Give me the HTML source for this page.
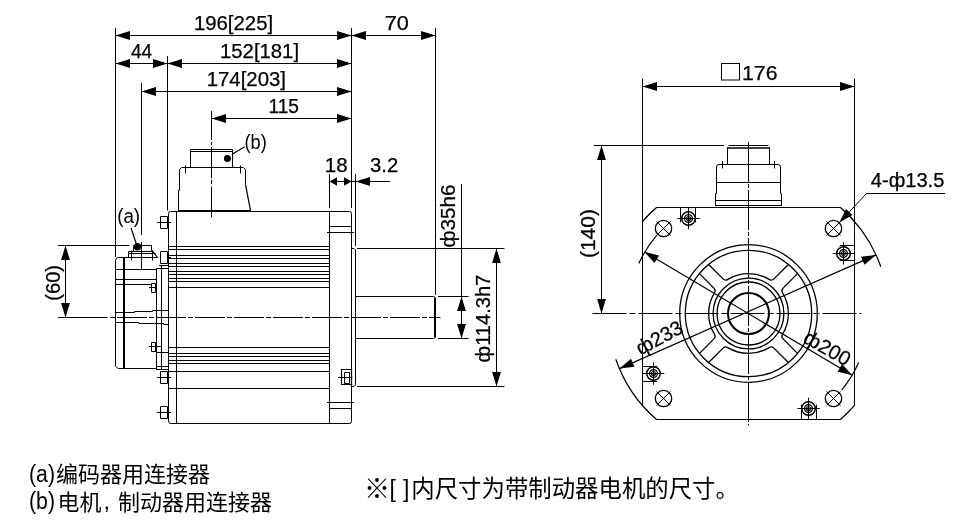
<!DOCTYPE html>
<html><head><meta charset="utf-8"><title>Motor dimensions</title>
<style>
html,body{margin:0;padding:0;background:#fff}
body{width:964px;height:521px;overflow:hidden;font-family:"Liberation Sans",sans-serif}
svg{display:block;will-change:transform}
</style></head><body>
<svg width="964" height="521" viewBox="0 0 964 521">
<title>Servo motor outline dimensions</title>
<desc>(a)编码器用连接器 (b)电机, 制动器用连接器 ※[ ]内尺寸为带制动器电机的尺寸。</desc>
<rect width="964" height="521" fill="#fff"/>
<g fill="none" stroke="#000" stroke-width="1">
<path d="M115.5,28V257" stroke-width="1" />
<path d="M351.5,28V208" stroke-width="1" />
<path d="M435.5,28V295" stroke-width="1" />
<path d="M167.5,56V210.5" stroke-width="1" />
<path d="M141.5,83V235" stroke-width="1" />
<path d="M141.5,242V269" stroke-width="1" />
<path d="M211.5,111V140" stroke-width="1" />
<path d="M211.5,142V145" stroke-width="1" />
<path d="M211.5,147V178.5" stroke-width="1" />
<path d="M211.5,180V184" stroke-width="1" />
<path d="M211.5,186.5V217.5" stroke-width="1" />
<path d="M115.5,35.5H435.5" stroke-width="1" />
<path d="M115.5,63.5H351.5" stroke-width="1" />
<path d="M141.5,91.5H351.5" stroke-width="1" />
<path d="M211.5,118.5H351.5" stroke-width="1" />
<path d="M329.5,181.5H390" stroke-width="1" />
<path d="M329.5,174V208" stroke-width="1" />
<path d="M355.5,174V246" stroke-width="1" />
<path d="M58,245.5H129.5" stroke-width="1" />
<path d="M65.5,245.5V317.5" stroke-width="1" />
<path d="M168.5,213.5Q168.5,211.5 170.5,211.5H349.5Q351.5,211.5 351.5,213.5V421.5Q351.5,423.5 349.5,423.5H171Q168.5,423.5 168.5,421Z" stroke-width="1" />
<path d="M176.5,211.5V423.5" stroke-width="1" />
<path d="M329.5,211.5V423.5" stroke-width="1" />
<path d="M168.5,246.5H329.5" stroke-width="1" />
<path d="M168.5,249.5H329.5" stroke-width="1" />
<path d="M168.5,255.5H329.5" stroke-width="1" />
<path d="M168.5,258.5H329.5" stroke-width="1" />
<path d="M168.5,263.5H329.5" stroke-width="1" />
<path d="M168.5,266.5H329.5" stroke-width="1" />
<path d="M168.5,271.5H329.5" stroke-width="1" />
<path d="M168.5,274.5H329.5" stroke-width="1" />
<path d="M168.5,278.5H329.5" stroke-width="1" />
<path d="M168.5,281.5H329.5" stroke-width="1" />
<path d="M168.5,287.5H329.5" stroke-width="1" />
<path d="M168.5,347.5H329.5" stroke-width="1" />
<path d="M168.5,353.5H329.5" stroke-width="1" />
<path d="M168.5,356.5H329.5" stroke-width="1" />
<path d="M168.5,360.5H329.5" stroke-width="1" />
<path d="M168.5,363.5H329.5" stroke-width="1" />
<path d="M168.5,371.5H329.5" stroke-width="1" />
<path d="M168.5,388.5H329.5" stroke-width="1" />
<path d="M329.5,226.5H351.5" stroke-width="1" />
<path d="M327,232.5H354" stroke-width="1" />
<path d="M327,402.5H354" stroke-width="1" />
<path d="M341.5,369.5H351.5V384.5H341.5Z" stroke-width="1.2" />
<path d="M344.5,372.5H349.5V383.5H344.5Z" stroke-width="1" />
<path d="M338,377.5H352.5" stroke-width="1" />
<path d="M329.5,408.5H351.5" stroke-width="1" />
<path d="M351.5,248.5H354L355.5,250V385L354,386.5H351.5" stroke-width="1" />
<path d="M357,248.5H504.5" stroke-width="1" />
<path d="M357,386.5H504.5" stroke-width="1" />
<path d="M355.5,296.5H433.5Q435.5,296.5 435.5,298.5V336.5Q435.5,338.5 433.5,338.5H355.5" stroke-width="1" />
<path d="M435,298V337" stroke-width="2" />
<path d="M438,296.5H468.5" stroke-width="1" />
<path d="M438,338.5H468.5" stroke-width="1" />
<path d="M461.5,184V338.5" stroke-width="1" />
<path d="M496.5,248.5V386.5" stroke-width="1" />
<path d="M58,317.5H107.5" stroke-width="1" />
<path d="M110,317.5H440.5" stroke-width="1" stroke-dasharray="5 2 30 2"/>
<path d="M157.5,257.5H118.5Q115.5,257.5 115.5,260.5V366L118,368.5H156.5" stroke-width="1" />
<path d="M124,257.5V368.5" stroke-width="2" />
<path d="M115.5,269.5H156.5" stroke-width="1" />
<path d="M115.5,279.5H156.5" stroke-width="1" />
<path d="M115.5,284.5H151.5" stroke-width="1" />
<path d="M156.5,268.5V369.5" stroke-width="1" />
<path d="M161.5,266V369.5" stroke-width="1" />
<path d="M159,265.5H168.5" stroke-width="1" />
<path d="M156.5,268.5H168.5" stroke-width="1" />
<path d="M156.5,352.5H168.5" stroke-width="1" />
<path d="M156.5,366.5H168.5" stroke-width="1" />
<path d="M156.5,369.5H168.5" stroke-width="1" />
<path d="M133.5,251.5V245.5H151.5V251" stroke-width="1" />
<path d="M128.5,251.5H152" stroke-width="1" />
<path d="M128.5,253.5H155.5" stroke-width="1" />
<path d="M128.5,251.5V257.5" stroke-width="1" />
<path d="M152,250.5L157.5,257.5" stroke-width="1.2" />
<path d="M131.5,250.5V260.5" stroke-width="1" />
<path d="M152.5,250.5V260.5" stroke-width="1" />
<path d="M131,228L137,246" stroke-width="1.2" />
<path d="M151.5,283.5H155.5V292.5H151.5Z" stroke-width="1" />
<path d="M149,287.5H157" stroke-width="1" />
<path d="M151.5,342.5H155.5V351.5H151.5Z" stroke-width="1" />
<path d="M149,346.5H161.5" stroke-width="1" />
<path d="M116,312.5H134.5V311.5H152.5V310.5H168.5" stroke-width="1" />
<path d="M116,322.5H139V323.5H163.5V324.5H168.5" stroke-width="1" />
<path d="M167.5,216.5H160.5V228.5H167.5" stroke-width="1" />
<path d="M167.5,216.5V228.5" stroke-width="1" />
<path d="M157,222.5H171" stroke-width="1" />
<path d="M167.5,251.5H160.5V263.5H167.5" stroke-width="1" />
<path d="M167.5,251.5V263.5" stroke-width="1" />
<path d="M167.5,257.5H171" stroke-width="1" />
<path d="M167.5,371.5H160.5V383.5H167.5" stroke-width="1" />
<path d="M167.5,371.5V383.5" stroke-width="1" />
<path d="M157,377.5H171" stroke-width="1" />
<path d="M167.5,406.5H160.5V418.5H167.5" stroke-width="1" />
<path d="M167.5,406.5V418.5" stroke-width="1" />
<path d="M157,412.5H171" stroke-width="1" />
<path d="M190.5,149.5H232.5" stroke-width="1" />
<path d="M190.5,151.5H232.5" stroke-width="1" />
<path d="M190.5,149.5V167.5" stroke-width="1" />
<path d="M232.5,149.5V167.5" stroke-width="1" />
<path d="M178.5,210.5V190.5H179.5V169.5L181.5,167.5H243.5L245.5,169.5V184.5" stroke-width="1" />
<path d="M245.5,184.5L250.5,210.5" stroke-width="1.3" />
<path d="M185.5,165.5V173.5" stroke-width="1" />
<path d="M240.5,165.5V173.5" stroke-width="1" />
<path d="M178,211H251" stroke-width="2" />
<path d="M232.5,154L244.7,146.8" stroke-width="1.2" />
</g>
<circle cx="137.4" cy="246.8" r="3.7" stroke-width="0" fill="#000"/>
<circle cx="227.4" cy="158.4" r="3.5" stroke-width="0" fill="#000"/>
<polygon points="115.50,35.50 130.00,31.10 130.00,39.90" fill="#000" stroke="none"/>
<polygon points="351.50,35.50 337.00,39.90 337.00,31.10" fill="#000" stroke="none"/>
<polygon points="351.50,35.50 366.00,31.10 366.00,39.90" fill="#000" stroke="none"/>
<polygon points="435.50,35.50 421.00,39.90 421.00,31.10" fill="#000" stroke="none"/>
<polygon points="115.50,63.50 130.00,59.10 130.00,67.90" fill="#000" stroke="none"/>
<polygon points="167.50,63.50 153.00,67.90 153.00,59.10" fill="#000" stroke="none"/>
<polygon points="167.50,63.50 182.00,59.10 182.00,67.90" fill="#000" stroke="none"/>
<polygon points="351.50,63.50 337.00,67.90 337.00,59.10" fill="#000" stroke="none"/>
<polygon points="141.50,91.50 156.00,87.10 156.00,95.90" fill="#000" stroke="none"/>
<polygon points="351.50,91.50 337.00,95.90 337.00,87.10" fill="#000" stroke="none"/>
<polygon points="211.50,118.50 226.00,114.10 226.00,122.90" fill="#000" stroke="none"/>
<polygon points="351.50,118.50 337.00,122.90 337.00,114.10" fill="#000" stroke="none"/>
<polygon points="355.50,181.50 370.00,177.10 370.00,185.90" fill="#000" stroke="none"/>
<polygon points="65.50,245.50 69.90,260.00 61.10,260.00" fill="#000" stroke="none"/>
<polygon points="65.50,317.50 61.10,303.00 69.90,303.00" fill="#000" stroke="none"/>
<polygon points="461.50,296.50 465.90,311.00 457.10,311.00" fill="#000" stroke="none"/>
<polygon points="461.50,338.50 457.10,324.00 465.90,324.00" fill="#000" stroke="none"/>
<polygon points="496.50,248.50 500.90,263.00 492.10,263.00" fill="#000" stroke="none"/>
<polygon points="496.50,386.50 492.10,372.00 500.90,372.00" fill="#000" stroke="none"/>
<polygon points="329.50,181.50 337.00,177.30 337.00,185.70" fill="#000" stroke="none"/>
<polygon points="351.50,181.50 344.00,185.70 344.00,177.30" fill="#000" stroke="none"/>
<g fill="none" stroke="#000" stroke-width="1">
<path d="M642.5,78.5V222" stroke-width="1" />
<path d="M854.5,78.5V222" stroke-width="1" />
<path d="M642.5,86.5H854.5" stroke-width="1" />
<path d="M656.6,207.5H840.4A140.3,140.3 0 0 1 854.5,221.6V405.4A140.3,140.3 0 0 1 840.4,419.5H656.6A140.3,140.3 0 0 1 642.5,405.4V221.6A140.3,140.3 0 0 1 656.6,207.5Z" stroke-width="1" />
<path d="M840.2,207.3A140.3,140.3 0 0 1 880.8,266.7" stroke-width="1.2" />
<path d="M854.7,405.2A140.3,140.3 0 0 1 840.2,419.7" stroke-width="1.2" />
<path d="M642.3,221.8A140.3,140.3 0 0 1 656.8,207.3" stroke-width="1.2" />
<path d="M656.8,419.7A140.3,140.3 0 0 1 615.8,359.2" stroke-width="1.2" />
<path d="M656.7,235.3A120.6,120.6 0 0 0 638.8,263.5" stroke-width="1.2" />
<path d="M841.6,390.2A120.6,120.6 0 0 0 858.7,362.6" stroke-width="1.2" />
<path d="M619.5,368.6L876,254.9" stroke-width="1.2" />
<path d="M644.3,251.8L852.3,375.3" stroke-width="1.2" />
<circle cx="748.5" cy="313.5" r="68.8" stroke-width="1.3" fill="none"/>
<circle cx="748.5" cy="313.5" r="63.2" stroke-width="1.3" fill="none"/>
<circle cx="748.5" cy="313.5" r="35.4" stroke-width="1.3" fill="none"/>
<circle cx="748.5" cy="313.5" r="31.5" stroke-width="1.3" fill="none"/>
<circle cx="748.5" cy="313.5" r="20.5" stroke-width="2" fill="none"/>
<path d="M708.6,264.5L723.1,278.9Q725.3,281.1 727.8,279.4A39.9,39.9 0 0 1 769.2,279.4Q771.7,281.1 773.9,278.9L788.4,264.5" stroke-width="1.3" />
<path d="M797.5,273.6L783.1,288.1Q780.9,290.3 782.6,292.8A39.9,39.9 0 0 1 782.6,334.2Q780.9,336.7 783.1,338.9L797.5,353.4" stroke-width="1.3" />
<path d="M788.4,362.5L773.9,348.1Q771.7,345.9 769.2,347.6A39.9,39.9 0 0 1 727.8,347.6Q725.3,345.9 723.1,348.1L708.6,362.5" stroke-width="1.3" />
<path d="M699.5,353.4L713.9,338.9Q716.1,336.7 714.4,334.2A39.9,39.9 0 0 1 714.4,292.8Q716.1,290.3 713.9,288.1L699.5,273.6" stroke-width="1.3" />
<circle cx="663.5" cy="228.5" r="8.2" stroke-width="1.3" fill="none"/>
<path d="M656.5,221.5L670.5,235.5" stroke-width="1" />
<path d="M656.5,235.5L670.5,221.5" stroke-width="1" />
<circle cx="663.5" cy="398.5" r="8.2" stroke-width="1.3" fill="none"/>
<path d="M656.5,391.5L670.5,405.5" stroke-width="1" />
<path d="M656.5,405.5L670.5,391.5" stroke-width="1" />
<circle cx="833.5" cy="228.5" r="8.2" stroke-width="1.3" fill="none"/>
<path d="M826.5,221.5L840.5,235.5" stroke-width="1" />
<path d="M826.5,235.5L840.5,221.5" stroke-width="1" />
<circle cx="833.5" cy="398.5" r="8.2" stroke-width="1.3" fill="none"/>
<path d="M826.5,391.5L840.5,405.5" stroke-width="1" />
<path d="M826.5,405.5L840.5,391.5" stroke-width="1" />
<circle cx="688.5" cy="218.5" r="2.0" stroke-width="1.2" fill="none"/>
<circle cx="688.5" cy="218.5" r="3.9" stroke-width="1.3" fill="none"/>
<circle cx="688.5" cy="218.5" r="6.8" stroke-width="1.5" fill="none"/>
<path d="M680.5,207.5L680.5,222.3" stroke-width="1" />
<path d="M695.5,207.5L695.5,222.3" stroke-width="1" />
<path d="M677.2,218.5L699.6,218.5" stroke-width="1" />
<path d="M688.5,207.5L688.5,229.3" stroke-width="1" />
<circle cx="843.5" cy="253.5" r="2.0" stroke-width="1.2" fill="none"/>
<circle cx="843.5" cy="253.5" r="3.9" stroke-width="1.3" fill="none"/>
<circle cx="843.5" cy="253.5" r="6.8" stroke-width="1.5" fill="none"/>
<path d="M854.5,245.5L839.7,245.5" stroke-width="1" />
<path d="M854.5,260.5L839.7,260.5" stroke-width="1" />
<path d="M843.5,242.2L843.5,264.6" stroke-width="1" />
<path d="M854.5,253.5L832.7,253.5" stroke-width="1" />
<circle cx="808.5" cy="408.5" r="2.0" stroke-width="1.2" fill="none"/>
<circle cx="808.5" cy="408.5" r="3.9" stroke-width="1.3" fill="none"/>
<circle cx="808.5" cy="408.5" r="6.8" stroke-width="1.5" fill="none"/>
<path d="M816.5,419.5L816.5,404.7" stroke-width="1" />
<path d="M801.5,419.5L801.5,404.7" stroke-width="1" />
<path d="M819.8,408.5L797.4,408.5" stroke-width="1" />
<path d="M808.5,419.5L808.5,397.7" stroke-width="1" />
<circle cx="653.5" cy="373.5" r="2.0" stroke-width="1.2" fill="none"/>
<circle cx="653.5" cy="373.5" r="3.9" stroke-width="1.3" fill="none"/>
<circle cx="653.5" cy="373.5" r="6.8" stroke-width="1.5" fill="none"/>
<path d="M642.5,381.5L657.3,381.5" stroke-width="1" />
<path d="M642.5,366.5L657.3,366.5" stroke-width="1" />
<path d="M653.5,384.8L653.5,362.4" stroke-width="1" />
<path d="M642.5,373.5L664.3,373.5" stroke-width="1" />
<path d="M945,193.5H866.5L839.3,222.6" stroke-width="1" />
<path d="M728.5,145.5H768.5" stroke-width="1" />
<path d="M727.5,148H769.5" stroke-width="1.5" />
<path d="M727.5,147V164.5" stroke-width="1" />
<path d="M769.5,147V164.5" stroke-width="1" />
<path d="M715.5,205.5V193.5H716.5V167Q716.5,164.5 719,164.5H778Q780.5,164.5 780.5,167V193.5H781.5V205.5" stroke-width="1" />
<path d="M716.5,182.5H780.5" stroke-width="1" />
<path d="M715.5,200.5H781.5" stroke-width="1" />
<path d="M715,205.5H782" stroke-width="1" />
<path d="M722.5,161V168.5" stroke-width="1" />
<path d="M774.5,161V168.5" stroke-width="1" />
<path d="M720.5,164.5H724.5" stroke-width="1" />
<path d="M772.5,164.5H776.5" stroke-width="1" />
<path d="M594,145.5H724" stroke-width="1" />
<path d="M601.5,145.5V313.5" stroke-width="1" />
<path d="M592.5,313.5H861.5" stroke-width="1" stroke-dasharray="34 3 6 3"/>
<path d="M748.5,142V425.5" stroke-width="1" stroke-dasharray="40 2 4 2"/>
</g>
<polygon points="642.50,86.50 657.00,82.10 657.00,90.90" fill="#000" stroke="none"/>
<polygon points="854.50,86.50 840.00,90.90 840.00,82.10" fill="#000" stroke="none"/>
<polygon points="601.50,145.50 605.90,160.00 597.10,160.00" fill="#000" stroke="none"/>
<polygon points="601.50,313.50 597.10,299.00 605.90,299.00" fill="#000" stroke="none"/>
<polygon points="619.50,368.60 630.97,358.70 634.54,366.75" fill="#000" stroke="none"/>
<polygon points="876.00,254.90 864.53,264.80 860.96,256.75" fill="#000" stroke="none"/>
<polygon points="644.30,251.80 659.01,255.42 654.52,262.99" fill="#000" stroke="none"/>
<polygon points="852.30,375.30 837.59,371.68 842.08,364.11" fill="#000" stroke="none"/>
<polygon points="839.30,222.60 845.99,209.00 852.42,215.01" fill="#000" stroke="none"/>
<g fill="#000" stroke="none">
<text x="193.9" y="29.7" font-size="20.3" font-family="Liberation Sans, sans-serif" text-anchor="start" textLength="79.26" lengthAdjust="spacingAndGlyphs" stroke="#000" stroke-width="0.25">196[225]</text>
<text x="384.73" y="29.8" font-size="20.3" font-family="Liberation Sans, sans-serif" text-anchor="start" textLength="24.17" lengthAdjust="spacingAndGlyphs" stroke="#000" stroke-width="0.25">70</text>
<text x="130.9" y="57.7" font-size="20.3" font-family="Liberation Sans, sans-serif" text-anchor="start" textLength="21.23" lengthAdjust="spacingAndGlyphs" stroke="#000" stroke-width="0.25">44</text>
<text x="220.0" y="57.8" font-size="20.3" font-family="Liberation Sans, sans-serif" text-anchor="start" textLength="79.06" lengthAdjust="spacingAndGlyphs" stroke="#000" stroke-width="0.25">152[181]</text>
<text x="206.7" y="85.5" font-size="20.3" font-family="Liberation Sans, sans-serif" text-anchor="start" textLength="79.26" lengthAdjust="spacingAndGlyphs" stroke="#000" stroke-width="0.25">174[203]</text>
<text x="268.45" y="113.1" font-size="20.3" font-family="Liberation Sans, sans-serif" text-anchor="start" textLength="30.57" lengthAdjust="spacingAndGlyphs" stroke="#000" stroke-width="0.25">115</text>
<text x="324.89" y="171.5" font-size="20.3" font-family="Liberation Sans, sans-serif" text-anchor="start" textLength="22.88" lengthAdjust="spacingAndGlyphs" stroke="#000" stroke-width="0.25">18</text>
<text x="370.0" y="171.7" font-size="20.3" font-family="Liberation Sans, sans-serif" text-anchor="start" textLength="28.2" lengthAdjust="spacingAndGlyphs" stroke="#000" stroke-width="0.25">3.2</text>
<text x="244.47" y="148.9" font-size="19.5" font-family="Liberation Sans, sans-serif" text-anchor="start" textLength="22.22" lengthAdjust="spacingAndGlyphs" >(b)</text>
<text x="117.14" y="222.5" font-size="19.5" font-family="Liberation Sans, sans-serif" text-anchor="start" textLength="22.98" lengthAdjust="spacingAndGlyphs" >(a)</text>
<text x="741.95" y="79.6" font-size="20.3" font-family="Liberation Sans, sans-serif" text-anchor="start" textLength="35.54" lengthAdjust="spacingAndGlyphs" stroke="#000" stroke-width="0.25">176</text>
<text x="870.8" y="186.6" font-size="20.3" font-family="Liberation Sans, sans-serif" text-anchor="start" textLength="73.6" lengthAdjust="spacingAndGlyphs" stroke="#000" stroke-width="0.25">4-ф13.5</text>
<text x="60" y="300.69" font-size="20.3" font-family="Liberation Sans, sans-serif" text-anchor="start" textLength="35.76" lengthAdjust="spacingAndGlyphs" transform="rotate(-90 60 300.69)" stroke="#000" stroke-width="0.25">(60)</text>
<text x="455" y="247.42" font-size="20.3" font-family="Liberation Sans, sans-serif" text-anchor="start" textLength="62.84" lengthAdjust="spacingAndGlyphs" transform="rotate(-90 455 247.42)" stroke="#000" stroke-width="0.25">ф35h6</text>
<text x="490" y="362.39" font-size="20.3" font-family="Liberation Sans, sans-serif" text-anchor="start" textLength="87.69" lengthAdjust="spacingAndGlyphs" transform="rotate(-90 490 362.39)" stroke="#000" stroke-width="0.25">ф114.3h7</text>
<text x="594.8" y="258.03" font-size="20.3" font-family="Liberation Sans, sans-serif" text-anchor="start" textLength="48.94" lengthAdjust="spacingAndGlyphs" transform="rotate(-90 594.8 258.03)" stroke="#000" stroke-width="0.25">(140)</text>
<text x="640.4" y="355.5" font-size="20" font-family="Liberation Sans, sans-serif" text-anchor="start" transform="rotate(-28 640.4 355.5)" stroke="#000" stroke-width="0.25">ф233</text>
<text x="802.1" y="341.6" font-size="20.2" font-family="Liberation Sans, sans-serif" text-anchor="start" transform="rotate(30 802.1 341.6)" stroke="#000" stroke-width="0.25">ф200</text>
</g>
<rect x="721.5" y="63.5" width="18" height="16.5" fill="none" stroke="#000"/>
<text x="29" y="481.9" font-size="23.5" font-family="Liberation Sans, sans-serif" text-anchor="start" textLength="26" lengthAdjust="spacingAndGlyphs" >(a)</text>
<text x="56" y="481.8" font-size="22" font-family="'Liberation Sans', 'Noto Sans CJK SC', sans-serif" text-anchor="start" textLength="154" lengthAdjust="spacingAndGlyphs" fill="#000">编码器用连接器</text>
<text x="29" y="509" font-size="23.5" font-family="Liberation Sans, sans-serif" text-anchor="start" textLength="26" lengthAdjust="spacingAndGlyphs" >(b)</text>
<text x="57.5" y="509.5" font-size="22" font-family="'Liberation Sans', 'Noto Sans CJK SC', sans-serif" text-anchor="start" textLength="44" lengthAdjust="spacingAndGlyphs" fill="#000">电机</text>
<text x="103.5" y="509" font-size="23.5" font-family="Liberation Sans, sans-serif" text-anchor="start" >,</text>
<text x="118" y="509.5" font-size="22" font-family="'Liberation Sans', 'Noto Sans CJK SC', sans-serif" text-anchor="start" textLength="154" lengthAdjust="spacingAndGlyphs" fill="#000">制动器用连接器</text>
<text x="363.9" y="498.4" font-size="26" font-family="'Liberation Sans', 'Noto Sans CJK SC', sans-serif" text-anchor="start" fill="#000">※</text>
<text x="389.5" y="496.5" font-size="23" font-family="Liberation Sans, sans-serif" text-anchor="start" >[</text>
<text x="403" y="496.5" font-size="23" font-family="Liberation Sans, sans-serif" text-anchor="start" >]</text>
<text x="411.3" y="497.3" font-size="23.4" font-family="'Liberation Sans', 'Noto Sans CJK SC', sans-serif" text-anchor="start" textLength="327.6" lengthAdjust="spacingAndGlyphs" fill="#000">内尺寸为带制动器电机的尺寸。</text>
</svg>
</body></html>
